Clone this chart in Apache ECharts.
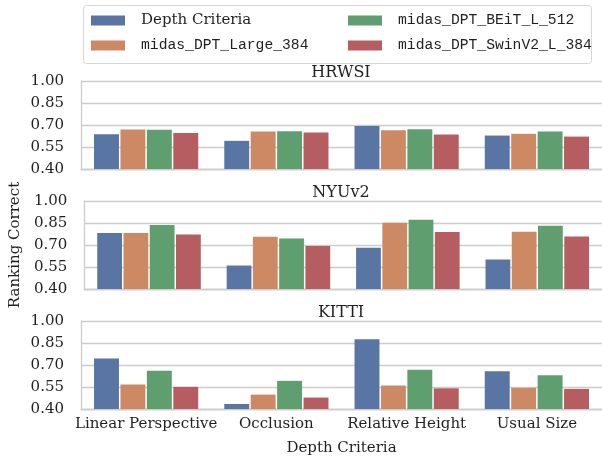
<!DOCTYPE html>
<html>
<head>
<meta charset="utf-8">
<script src="https://cdn.jsdelivr.net/npm/echarts@6/dist/echarts.min.js"></script>
<style>html,body{margin:0;padding:0;background:#fff}#main{width:602px;height:457px}</style>
</head>
<body>
<div id="main"></div>
<script>
var criteria = ['Linear Perspective', 'Occlusion', 'Relative Height', 'Usual Size'];
var datasets = ['HRWSI', 'NYUv2', 'KITTI'];
var seriesNames = ['Depth Criteria', 'midas_DPT_Large_384', 'midas_DPT_BEiT_L_512', 'midas_DPT_SwinV2_L_384'];
var colors = ['#5975a4', '#cc8963', '#5f9e6e', '#b55d60'];
var yTicks = [0.40, 0.55, 0.70, 0.85, 1.00];

// one row per dataset, one column per criterion
var depthCriteria = [
  [0.637, 0.592, 0.694, 0.628],
  [0.781, 0.560, 0.681, 0.601],
  [0.744, 0.434, 0.875, 0.658]
];
var dptLarge = [
  [0.669, 0.655, 0.665, 0.640],
  [0.781, 0.756, 0.852, 0.790],
  [0.567, 0.498, 0.560, 0.544]
];
var dptBeit = [
  [0.667, 0.658, 0.671, 0.655],
  [0.836, 0.744, 0.872, 0.831],
  [0.660, 0.592, 0.667, 0.630]
];
var dptSwin = [
  [0.646, 0.649, 0.635, 0.621],
  [0.772, 0.694, 0.788, 0.758],
  [0.551, 0.478, 0.541, 0.537]
];
var allValues = [depthCriteria, dptLarge, dptBeit, dptSwin];

var serif = 'DejaVu Serif';
var mono = 'Liberation Mono';
var fs = 15;
var txt = '#1f1f1f';
var gridTops = [81, 201, 321];

var grids = [], xAxes = [], yAxes = [], titles = [], series = [];
datasets.forEach(function (ds, i) {
    grids.push({ left: 81, right: 0, top: gridTops[i], height: 88 });
    titles.push({
        text: ds, left: 341, top: gridTops[i] - 16, padding: 0, textAlign: 'center',
        textStyle: { fontFamily: serif, fontSize: 16, fontWeight: 'normal', color: txt }
    });
    xAxes.push({
        type: 'category', gridIndex: i, data: criteria,
        axisLine: { show: true, lineStyle: { color: '#cccccc', width: 1.3 } },
        axisTick: { show: false },
        axisLabel: { show: i === 2, interval: 0, margin: 8, fontFamily: serif, fontSize: fs, color: txt },
        name: i === 2 ? 'Depth Criteria' : '', nameLocation: 'middle', nameGap: 32,
        nameTextStyle: { fontFamily: serif, fontSize: fs, color: txt }
    });
    yAxes.push({
        type: 'value', gridIndex: i, min: 0.4, max: 1.0,
        axisLine: { show: true, lineStyle: { color: '#cccccc', width: 1.3 } },
        axisTick: { show: false, customValues: yTicks },
        splitLine: { show: true, lineStyle: { color: '#cccccc', width: 1.3 } },
        axisLabel: {
            customValues: yTicks, margin: 17, fontFamily: serif, fontSize: fs, color: txt,
            formatter: function (v) { return v.toFixed(2); }
        },
        name: i === 1 ? 'Ranking Correct' : '', nameLocation: 'middle', nameGap: 54,
        nameTextStyle: { fontFamily: serif, fontSize: fs, color: txt }
    });
    seriesNames.forEach(function (name, k) {
        series.push({
            type: 'bar', name: name, xAxisIndex: i, yAxisIndex: i,
            data: allValues[k][i],
            barCategoryGap: '20%', barGap: '6%',
            itemStyle: { color: colors[k] },
            emphasis: { disabled: true }
        });
    });
});

function legendText(name) {
    return name === 'Depth Criteria' ? '{s|' + name + '}' : '{m|' + name + '}';
}
var legendRich = {
    s: { fontFamily: serif, fontSize: fs, color: txt, padding: [0, 0, 0, 11] },
    m: { fontFamily: mono, fontSize: 14.7, color: txt, padding: [0, 0, 0, 11] }
};

var option = {
    animation: false,
    backgroundColor: '#fff',
    title: titles,
    grid: grids,
    xAxis: xAxes,
    yAxis: yAxes,
    legend: [
        {
            orient: 'vertical', left: 91, top: 12, padding: 0, itemWidth: 34, itemHeight: 10, itemGap: 8,
            icon: 'rect', data: [seriesNames[0], seriesNames[1]],
            formatter: legendText, textStyle: { rich: legendRich, lineHeight: 17 }
        },
        {
            orient: 'vertical', left: 348, top: 12, padding: 0, itemWidth: 34, itemHeight: 10, itemGap: 8,
            icon: 'rect', data: [seriesNames[2], seriesNames[3]],
            formatter: legendText, textStyle: { rich: legendRich, lineHeight: 17 }
        }
    ],
    graphic: [{
        type: 'rect', left: 83, top: 5, z: -1,
        shape: { width: 508, height: 58, r: 3 },
        style: { fill: '#fff', stroke: '#d6d6d6', lineWidth: 1 }
    }],
    series: series
};

var myChart = echarts.init(document.getElementById('main'));
myChart.setOption(option);
</script>
</body>
</html>
